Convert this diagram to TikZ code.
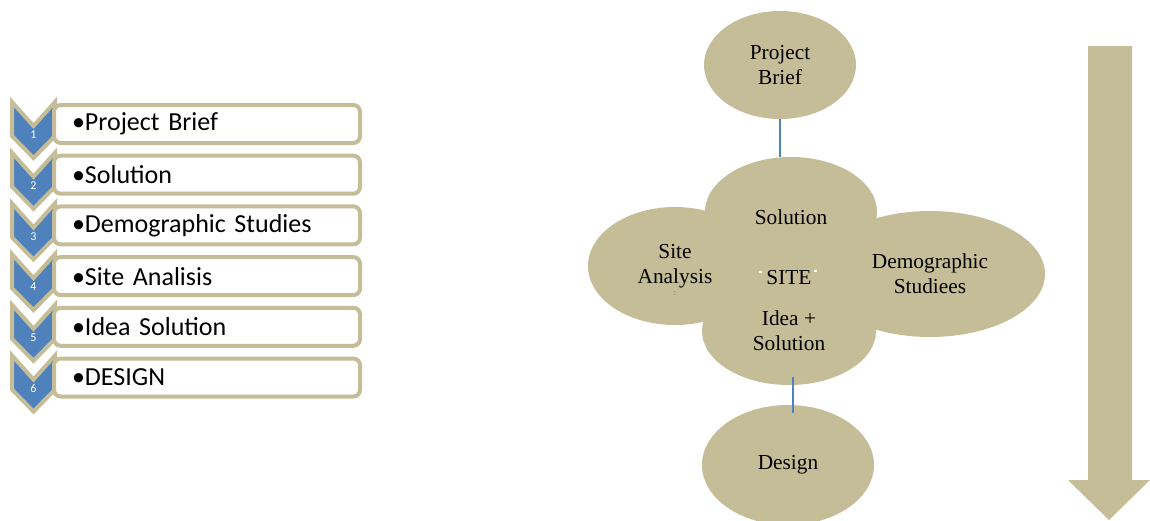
\documentclass[tikz,border=0pt]{standalone}
\usepackage{fontspec}
\setmainfont{Liberation Serif}
\newfontfamily\listfont{Carlito}
\usetikzlibrary{shapes,shapes.geometric,positioning,arrows}

\definecolor{tan}{HTML}{C4BD97}
\definecolor{stepblue}{HTML}{4F81BD}

\tikzset{
    bubble/.style={ellipse, fill=tan, inner sep=0pt, align=center,
        font=\fontsize{16}{18.5}\selectfont},
    item/.style={rectangle, rounded corners=5pt, draw=tan, line width=3pt, fill=white,
        minimum height=28.5pt, text width=202.5pt, inner xsep=13.5pt, align=left,
        font=\listfont\fontsize{19.5}{22}\selectfont},
    chevron/.style={fill=stepblue, draw=tan, line width=3pt, line join=miter},
    link/.style={draw=stepblue, line width=1.1pt}
}

\begin{document}
\begin{tikzpicture}[x=0.75pt, y=-0.75pt]
    \useasboundingbox (0,0) rectangle (1150,521);

    % numbered steps on the left
    \foreach \i/\label in {1/Project Brief, 2/Solution, 3/Demographic Studies,
                           4/Site Analisis, 5/Idea Solution, 6/DESIGN} {
        \pgfmathsetmacro\top{100+50.7*(\i-1)}
        \begin{scope}[shift={(0,\top)}]
            \draw[chevron] (12,2) -- (33.5,26) -- (55,2) -- (55,36) -- (33.5,58) -- (12,36) -- cycle;
            \node[text=white, font=\listfont\fontsize{9}{10}\selectfont] (num\i) at (33.5,35) {\i};
        \end{scope}
        \node[item] (step\i) at (207,\top+24) {•\label};
    }

    % bubbles
    \node[bubble, minimum width=114pt, minimum height=81pt] (brief) at (780,65) {Project\\Brief};
    \node[bubble, minimum width=90pt, minimum height=60pt] (site) at (790,273) {};
    \node[bubble, minimum width=129pt, minimum height=82.5pt] (solution) at (791,212) {};
    \node[bubble, minimum width=130.5pt, minimum height=88.5pt] (analysis) at (675,266) {Site\\Analysis};
    \node[bubble, minimum width=172.5pt, minimum height=94.5pt] (demo) at (930,274) {Demographic\\Studiees};
    \node[bubble, minimum width=130.5pt, minimum height=81pt] (idea) at (789,331) {Idea +\\Solution};
    \node[bubble, minimum width=129pt, minimum height=90pt] (design) at (788,465) {Design};
    \node[font=\fontsize{16}{18.5}\selectfont] at (791,217) {Solution};
    \node[font=\fontsize{16}{18.5}\selectfont] (sitelabel) at (789,278) {SITE};
    \node[font=\fontsize{6}{6}\selectfont, text=black!60] at (675,294) {:};
    \draw[white, line width=0.8pt] (759,272) -- (762,272) (814,271) -- (817,271);

    \coordinate (ideafoot) at ([xshift=3pt,yshift=6pt]idea.south);
    \draw[link] (brief.south) -- (solution.north -| brief.south);
    \draw[link] (ideafoot) -- ([yshift=-6pt]design.north -| ideafoot);

    % big arrow
    \fill[tan] (1088,46) -- (1132,46) -- (1132,480) -- (1150,480) -- (1109,520)
        -- (1068,480) -- (1088,480) -- cycle;
\end{tikzpicture}
\end{document}
